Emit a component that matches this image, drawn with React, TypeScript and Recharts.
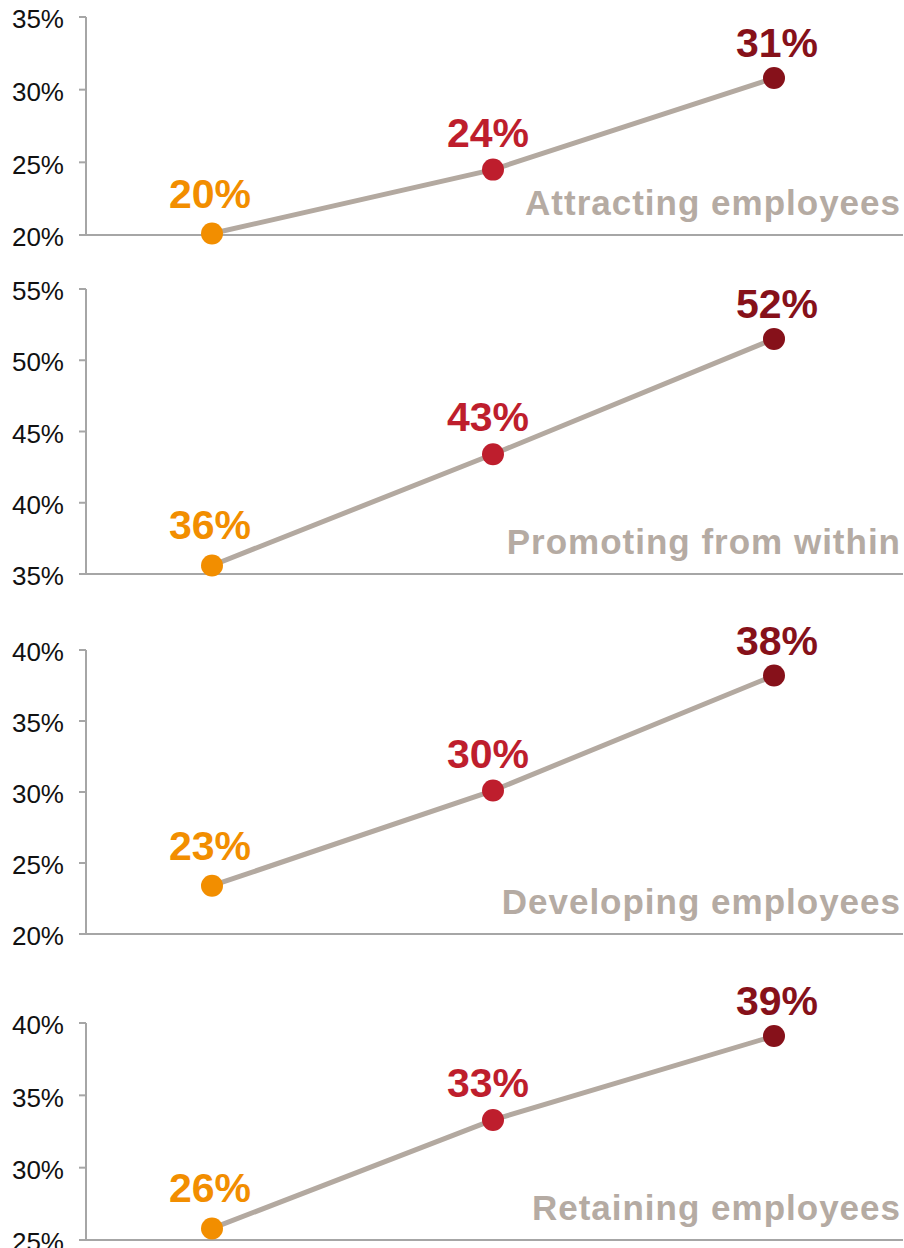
import React from 'react';
import { LineChart, Line, XAxis, YAxis, LabelList } from 'recharts';

const categories = ['1', '2', '3'];

const attractingValues = [20.1, 24.5, 30.8];
const promotingValues = [35.6, 43.4, 51.5];
const developingValues = [23.4, 30.1, 38.2];
const retainingValues = [25.8, 33.3, 39.1];

const attractingLabels = ['20%', '24%', '31%'];
const promotingLabels = ['36%', '43%', '52%'];
const developingLabels = ['23%', '30%', '38%'];
const retainingLabels = ['26%', '33%', '39%'];

const attractingTicks = [20, 25, 30, 35];
const promotingTicks = [35, 40, 45, 50, 55];
const developingTicks = [20, 25, 30, 35, 40];
const retainingTicks = [25, 30, 35, 40];

const titles = ['Attracting employees', 'Promoting from within', 'Developing employees', 'Retaining employees'];

const POINT_COLORS = ['#f28e00', '#be1e2d', '#86111a'];
const LINE_COLOR = '#b3a9a0';
const AXIS_COLOR = '#a6a6a6';
const TITLE_COLOR = '#b5aba3';
const FONT = '"Liberation Sans", Arial, Helvetica, sans-serif';

// label offsets per point position (orange, red, dark red)
const LABEL_DY = [26, 23, 21];
const LABEL_DX = [-2, -5, 3];

const TOP_MARGIN = 50;
const BOTTOM_MARGIN = 16;
const X_AXIS_H = 8;

type PanelProps = {
  values: number[];
  labels: string[];
  ticks: number[];
  title: string;
  plotTop: number;
  plotHeight: number;
};

const Panel: React.FC<PanelProps> = ({ values, labels, ticks, title, plotTop, plotHeight }) => {
  const data = categories.map((c, i) => ({ name: c, value: values[i], label: labels[i] }));

  const renderDot = (props: any) => (
    <circle key={`dot-${props.index}`} cx={props.cx} cy={props.cy} r={11} fill={POINT_COLORS[props.index]} />
  );

  const renderLabel = (props: any) => {
    const { x, y, index } = props;
    return (
      <text
        key={`lbl-${index}`}
        x={x + LABEL_DX[index]}
        y={y - LABEL_DY[index]}
        textAnchor="middle"
        fontFamily={FONT}
        fontWeight="bold"
        fontSize={41}
        fill={POINT_COLORS[index]}
      >
        {data[index].label}
      </text>
    );
  };

  const renderTitle = (props: any) => {
    const vb = props.viewBox || {};
    return (
      <text
        x={vb.x + vb.width - 2}
        y={vb.y - 20}
        textAnchor="end"
        fontFamily={FONT}
        fontWeight="bold"
        fontSize={35}
        letterSpacing={1}
        fill={TITLE_COLOR}
      >
        {title}
      </text>
    );
  };

  return (
    <div style={{ position: 'absolute', left: 0, top: plotTop - TOP_MARGIN }}>
      <LineChart
        width={904}
        height={TOP_MARGIN + plotHeight + X_AXIS_H + BOTTOM_MARGIN}
        data={data}
        margin={{ top: TOP_MARGIN, right: 1, bottom: BOTTOM_MARGIN, left: 0 }}
      >
        <XAxis
          dataKey="name"
          type="category"
          height={X_AXIS_H}
          padding={{ left: 126, right: 129 }}
          tick={false}
          tickLine={false}
          axisLine={{ stroke: AXIS_COLOR, strokeWidth: 2 }}
          label={{ content: renderTitle }}
        />
        <YAxis
          type="number"
          width={86}
          domain={[ticks[0], ticks[ticks.length - 1]]}
          ticks={ticks}
          interval={0}
          tickFormatter={(v: number) => `${v}%`}
          tickSize={7}
          tickMargin={15}
          axisLine={{ stroke: AXIS_COLOR, strokeWidth: 2 }}
          tickLine={{ stroke: AXIS_COLOR, strokeWidth: 2 }}
          tick={{ fill: '#111', fontSize: 26, fontFamily: FONT, dy: 2 }}
        />
        <Line
          type="linear"
          dataKey="value"
          stroke={LINE_COLOR}
          strokeWidth={5}
          dot={renderDot}
          activeDot={false}
          isAnimationActive={false}
        >
          <LabelList dataKey="value" content={renderLabel} />
        </Line>
      </LineChart>
    </div>
  );
};

export default function App() {
  return (
    <div style={{ position: 'absolute', left: 0, top: 0, width: 904, height: 1248, overflow: 'hidden', background: '#fff' }}>
      <Panel values={attractingValues} labels={attractingLabels} ticks={attractingTicks} title={titles[0]} plotTop={17} plotHeight={218} />
      <Panel values={promotingValues} labels={promotingLabels} ticks={promotingTicks} title={titles[1]} plotTop={289} plotHeight={285} />
      <Panel values={developingValues} labels={developingLabels} ticks={developingTicks} title={titles[2]} plotTop={650} plotHeight={284} />
      <Panel values={retainingValues} labels={retainingLabels} ticks={retainingTicks} title={titles[3]} plotTop={1023} plotHeight={217} />
    </div>
  );
}
